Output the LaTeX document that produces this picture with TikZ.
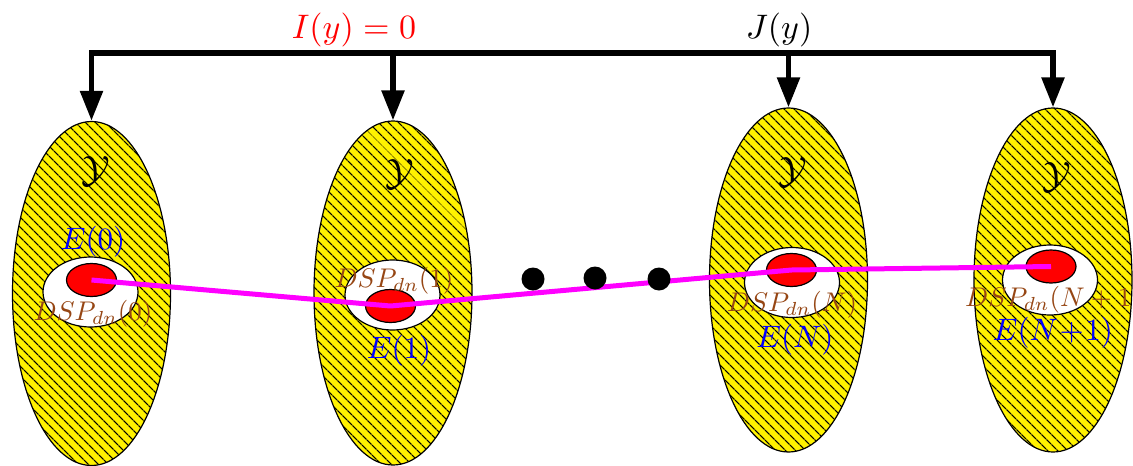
\documentclass[tikz,border=0pt]{standalone}
\usepackage{graphicx}
\usetikzlibrary{arrows.meta,patterns.meta,shapes.geometric}
\definecolor{dspbrown}{RGB}{150,70,20}
\definecolor{magpath}{RGB}{255,0,255}
\newcommand{\sbx}[2]{\scalebox{#1}{#2}}
\tikzset{
  bigell/.style={ellipse, draw=black, line width=1.2pt, minimum width=158pt, minimum height=344pt, inner sep=0pt,
    preaction={fill=yellow}, pattern={Lines[angle=-45,distance=7.4pt,line width=1.4pt]}},
  whiteell/.style={ellipse, draw=black, line width=1.2pt, fill=white, minimum width=95pt, minimum height=70pt, inner sep=0pt},
  redell/.style={ellipse, draw=black, line width=1.2pt, fill=red, minimum width=50pt, minimum height=33pt, inner sep=0pt},
  bigdot/.style={circle, fill=black, minimum size=23pt, inner sep=0pt},
  tiparrow/.style={line width=5.5pt, -{Triangle[length=30pt,width=22pt]}},
  bothtip/.style={line width=5.5pt, {Triangle[length=30pt,width=22pt]}-{Triangle[length=30pt,width=22pt]}},
  magline/.style={magpath, line width=5pt, line join=round},
  toplab/.style={inner sep=0pt},
  ylab/.style={inner sep=0pt},
  elab/.style={text=blue, inner sep=0pt},
  dlab/.style={text=dspbrown, inner sep=0pt}
}
\begin{document}
\begin{tikzpicture}[x=1pt,y=-1pt]
\useasboundingbox (0,0) rectangle (1133,466);
% big ellipses
\node[bigell] (Y1) at (91.5,293.5) {};
\node[bigell] (Y2) at (393,293) {};
\node[bigell] (Y3) at (788.5,280) {};
\node[bigell] (Y4) at (1053,280) {};
% white ellipses
\node[whiteell] (w1) at (90.5,292) {};
\node[whiteell] (w2) at (392.5,295) {};
\node[whiteell] (w3) at (792,282.5) {};
\node[whiteell] (w4) at (1050,280) {};
% red ellipses
\node[redell] (r1) at (91.5,280) {};
\node[redell] (r2) at (390.5,306) {};
\node[redell] (r3) at (791.5,270) {};
\node[redell] (r4) at (1051,266.5) {};
% magenta path
\draw[magline] (r1.center) -- (r2.center) -- (r3.center) -- (r4.center);
% dots
\node[bigdot] (d1) at (533,279) {};
\node[bigdot] (d2) at (595,278) {};
\node[bigdot] (d3) at (659,279) {};
% top bracket
\coordinate (bar) at (500,53);
\draw[bothtip] (Y1.north) |- (bar) -| (Y4.north);
\draw[tiparrow] (Y2.north |- bar) -- (Y2.north);
\draw[tiparrow] (Y3.north |- bar) -- (Y3.north);
\node[toplab, text=red] (I) at (354,30) {\sbx{3.4}{$I(y)=0$}};
\node[toplab] (J) at (779,30) {\sbx{3.4}{$J(y)$}};
% Y labels
\node[ylab] (y1) at (96,171) {\sbx{3.8}{$\mathcal{Y}$}};
\node[ylab] (y2) at (400,174) {\sbx{3.8}{$\mathcal{Y}$}};
\node[ylab] (y3) at (793,172) {\sbx{3.8}{$\mathcal{Y}$}};
\node[ylab] (y4) at (1057,177) {\sbx{3.8}{$\mathcal{Y}$}};
% E labels
\node[elab] (e1) at (93,242) {\sbx{3.1}{$E(0)$}};
\node[elab] (e2) at (399,351) {\sbx{3.1}{$E(1)$}};
\node[elab] (e3) at (795,340) {\sbx{3.1}{$E(N)$}};
\node[elab] (e4) at (1053,333) {\sbx{3.1}{$E(N\!+\!1)$}};
% DSP labels
\node[dlab] (s1) at (93,314) {\sbx{2.7}{$DSP_{dn}(0)$}};
\node[dlab] (s2) at (394,281) {\sbx{2.7}{$DSP_{dn}(1)$}};
\node[dlab] (s3) at (792,305) {\sbx{2.7}{$DSP_{dn}(N)$}};
\node[dlab, anchor=west] (s4) at (965,300) {\sbx{2.7}{$DSP_{dn}(N+1)$}};
\end{tikzpicture}
\end{document}
